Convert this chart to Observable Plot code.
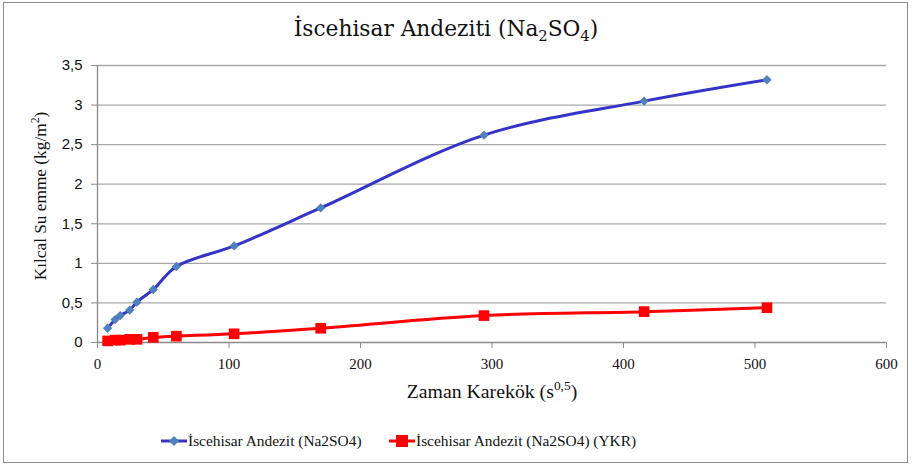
<!DOCTYPE html>
<html>
<head>
<meta charset="utf-8">
<script src="https://cdn.jsdelivr.net/npm/d3@7"></script>
<script src="https://cdn.jsdelivr.net/npm/@observablehq/plot@0.6"></script>
<style>
  html, body { margin: 0; padding: 0; background: #fff; }
  #wrap { position: relative; width: 912px; height: 466px; overflow: hidden; }
  #frame { position: absolute; left: 3px; top: 2px; width: 903px; height: 459px; border: 1px solid #8c8c8c; }
  #chart { position: absolute; left: 0; top: 0; }
  .serif { font-family: "Liberation Serif", "DejaVu Serif", serif; color: #111; }
  #title { position: absolute; left: 0; width: 892px; top: 16px; text-align: center; font-size: 21.7px; font-family: "DejaVu Serif", serif; color: #111; }
  #xlabel { position: absolute; left: 392px; width: 200px; top: 380px; text-align: center; font-size: 19.8px; }
  #ylabel { position: absolute; left: 41px; top: 196px; font-size: 17.3px; white-space: nowrap; transform: translate(-50%, -50%) rotate(-90deg); }
  #legend { position: absolute; top: 429px; left: 0; width: 912px; height: 24px; }
  .item { position: absolute; top: 0; display: flex; align-items: center; font-size: 15.4px; white-space: nowrap; font-family: "Liberation Serif", serif; color: #111; }
  sub, sup { font-size: 0.68em; line-height: 0; }
</style>
</head>
<body>
<div id="wrap">
  <div id="frame"></div>
  <div id="chart"></div>
  <div id="title">İscehisar Andeziti (Na<sub>2</sub>SO<sub>4</sub>)</div>
  <div id="ylabel" class="serif">Kılcal Su emme (kg/m<sup>2</sup>)</div>
  <div id="xlabel" class="serif">Zaman Karekök (s<sup>0,5</sup>)</div>
  <div id="legend"></div>
</div>
<script>
// ---- data ----
const timeRoot = [7.7, 13.4, 17.3, 24.5, 30, 42.4, 60, 103.9, 169.7, 293.9, 415.7, 509.1];
const blueValues = [0.18, 0.29, 0.34, 0.41, 0.51, 0.67, 0.96, 1.22, 1.70, 2.62, 3.05, 3.32];
const redValues = [0.02, 0.03, 0.03, 0.04, 0.04, 0.065, 0.08, 0.11, 0.18, 0.34, 0.39, 0.44];
const seriesNames = ["İscehisar Andezit (Na2SO4)", "İscehisar Andezit (Na2SO4) (YKR)"];
const xTicks = [0, 100, 200, 300, 400, 500, 600];
const yTicks = [0, 0.5, 1, 1.5, 2, 2.5, 3, 3.5];

const lineColors = ["#3434C8", "#FF0000"];
const markColors = ["#4F81BD", "#FF0000"];

const rows = [];
timeRoot.forEach((t, i) => rows.push({series: seriesNames[0], x: t, y: blueValues[i]}));
timeRoot.forEach((t, i) => rows.push({series: seriesNames[1], x: t, y: redValues[i]}));
const blueRows = rows.filter(d => d.series === seriesNames[0]);
const redRows = rows.filter(d => d.series === seriesNames[1]);

const chart = Plot.plot({
  width: 912,
  height: 466,
  marginLeft: 97,
  marginRight: 26,
  marginTop: 65,
  marginBottom: 124,
  style: {background: "transparent", fontFamily: "Liberation Sans, sans-serif", fontSize: "14px", color: "#111"},
  x: {domain: [0, 600]},
  y: {domain: [0, 3.5]},
  marks: [
    Plot.gridY(yTicks.filter(d => d > 0), {stroke: "#a8a8a8", strokeOpacity: 1, strokeWidth: 1.3}),
    Plot.ruleY([0], {stroke: "#8a8a8a", strokeWidth: 1.3}),
    Plot.ruleX([0], {stroke: "#8a8a8a", strokeWidth: 1.3}),
    Plot.axisY(yTicks, {tickSize: 6, tickPadding: 9, stroke: "#8a8a8a", label: null,
      tickFormat: d => String(d).replace(".", ","), fontSize: 15}),
    Plot.axisX(xTicks, {tickSize: 6, tickPadding: 10, stroke: "#8a8a8a", label: null,
      fontSize: 15, fontFamily: "Liberation Serif, serif"}),
    Plot.line(redRows, {x: "x", y: "y", stroke: lineColors[1], strokeWidth: 3, curve: "catmull-rom"}),
    Plot.dot(redRows, {x: "x", y: "y", symbol: "square", r: 6, fill: markColors[1], stroke: "none"}),
    Plot.line(blueRows, {x: "x", y: "y", stroke: lineColors[0], strokeWidth: 3, curve: "catmull-rom"}),
    Plot.dot(blueRows, {x: "x", y: "y", symbol: "diamond2", r: 4.2, fill: markColors[0], stroke: "none"})
  ]
});
document.getElementById("chart").appendChild(chart);

// ---- legend ----
const legend = document.getElementById("legend");
const legendX = [161, 389];
seriesNames.forEach((name, i) => {
  const item = document.createElement("div");
  item.className = "item";
  item.style.left = legendX[i] + "px";
  const marker = i === 0
    ? `<path d="M13,7 L18,12 L13,17 L8,12 Z" fill="${markColors[0]}"/>`
    : `<rect x="7" y="6" width="12" height="12" fill="${markColors[1]}"/>`;
  item.innerHTML = `<svg width="26" height="24" style="display:block"><line x1="0" y1="12" x2="26" y2="12" stroke="${lineColors[i]}" stroke-width="3"/>${marker}</svg><span style="margin-left:1px">${name}</span>`;
  legend.appendChild(item);
});
</script>
</body>
</html>
